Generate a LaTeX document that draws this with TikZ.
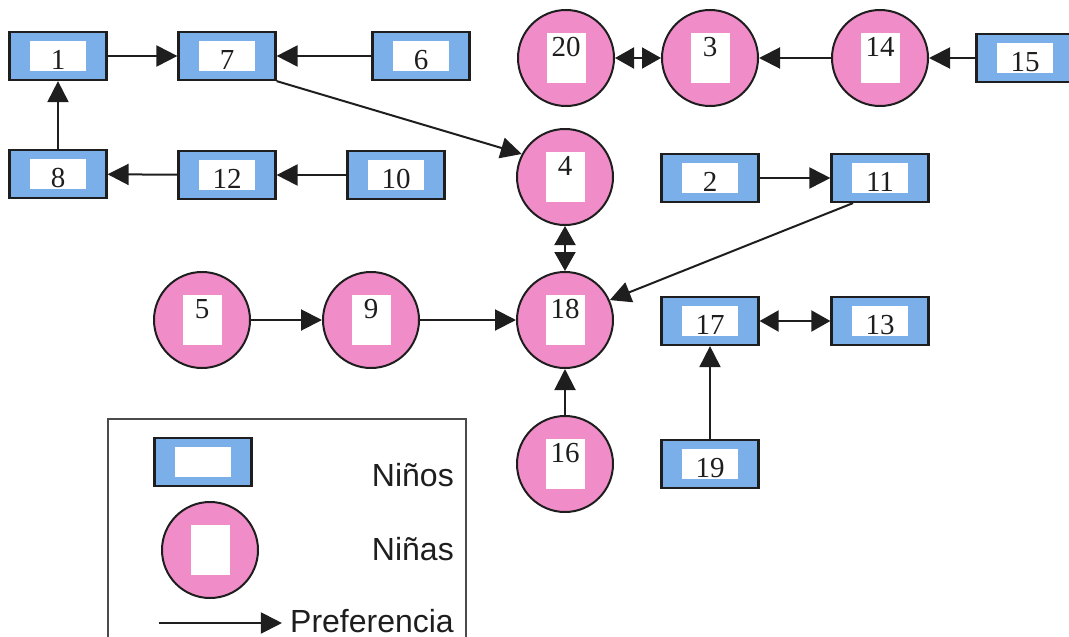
\documentclass[tikz,border=0pt]{standalone}
\usepackage{fontspec}
\setmainfont{Liberation Serif}
\newfontfamily\legendfont{Liberation Sans}
\usepackage{tikz}
\usetikzlibrary{arrows.meta,positioning,shapes}
\definecolor{ninoblue}{RGB}{122,175,234}
\definecolor{ninapink}{RGB}{240,140,200}
\definecolor{ink}{RGB}{30,30,30}

\begin{document}
\begin{tikzpicture}[x=1pt,y=-1pt,
  num/.style={font=\fontsize{29}{29}\selectfont, text=ink, inner sep=0pt},
  nino/.style={draw=ink, line width=2.2pt, fill=ninoblue, rectangle,
    minimum width=97pt, minimum height=48pt, inner sep=0pt,
    path picture={\fill[white] ([xshift=-28pt,yshift=-15pt]path picture bounding box.center)
      rectangle ([xshift=28pt,yshift=15pt]path picture bounding box.center);},
    label={[num,yshift=-4pt]center:#1}},
  nina/.style={draw=ink, line width=2pt, fill=ninapink, circle,
    minimum size=96pt, inner sep=0pt,
    path picture={\fill[white] ([xshift=-19.5pt,yshift=-25pt]path picture bounding box.center)
      rectangle ([xshift=19.5pt,yshift=25pt]path picture bounding box.center);},
    label={[num,yshift=11pt]center:#1}},
  pref/.style={draw=ink, line width=2pt, -{Triangle[length=21pt,width=21pt]}},
  mutua/.style={draw=ink, line width=2pt, {Triangle[length=19pt,width=21pt]}-{Triangle[length=19pt,width=21pt]}},
  legtext/.style={font=\legendfont\fontsize{32}{32}\selectfont, text=ink, inner sep=0pt, anchor=base east}]
\useasboundingbox (0,0) rectangle (1069,637);

\node[nino=1] (n1) at (58,56) {};
\node[nino=7] (n7) at (227,56) {};
\node[nino=6] (n6) at (421,56) {};
\node[nino=8] (n8) at (58,174) {};
\node[nino=12] (n12) at (227,175) {};
\node[nino=10] (n10) at (396,175) {};
\node[nino=2] (n2) at (710,178) {};
\node[nino=11] (n11) at (880,178) {};
\node[nino=17] (n17) at (710,321) {};
\node[nino=13] (n13) at (880,321) {};
\node[nino=19] (n19) at (710,464) {};
\node[nino=15] (n15) at (1025,58) {};

\node[nina=20] (n20) at (566,58) {};
\node[nina=3] (n3) at (710,58) {};
\node[nina=14] (n14) at (880,58) {};
\node[nina=4] (n4) at (565,177) {};
\node[nina=18] (n18) at (565,320) {};
\node[nina=5] (n5) at (202,320) {};
\node[nina=9] (n9) at (371,320) {};
\node[nina=16] (n16) at (565,464) {};

\draw[pref] (n1) -- (n7);
\draw[pref] (n6) -- (n7);
\draw[pref] (n8) -- (n1);
\draw[pref] (n12) -- (n8);
\draw[pref] (n10) -- (n12);
\draw[pref] (n7.south east) -- (n4.152);
\draw[mutua] (n20) -- (n3);
\draw[pref] (n14) -- (n3);
\draw[pref] (n15) -- (n14);
\draw[mutua] (n4) -- (n18);
\draw[pref] (n2) -- (n11);
\coordinate (c11) at ([xshift=-27pt]n11.south);
\draw[pref] (c11) -- (n18.24);
\draw[pref] (n5) -- (n9);
\draw[pref] (n9) -- (n18);
\draw[pref] (n16) -- (n18);
\draw[mutua] (n17) -- (n13);
\draw[pref] (n19) -- (n17);

\draw[draw=ink!80, line width=1.2pt] (108,660) -- (108,419) -- (466,419) -- (466,660);
\node[nino=] (legnino) at (203,462) {};
\node[nina=] (legnina) at (210,550) {};
\node[legtext] (tnino) at (454,486) {Niños};
\node[legtext] (tnina) at (454,560) {Niñas};
\node[legtext] (tpref) at (454,632) {Preferencia};
\coordinate (legstart) at (159,623);
\coordinate (legend) at ([xshift=-8pt]tpref.west |- legstart);
\draw[pref] (legstart) -- (legend);
\end{tikzpicture}
\end{document}
